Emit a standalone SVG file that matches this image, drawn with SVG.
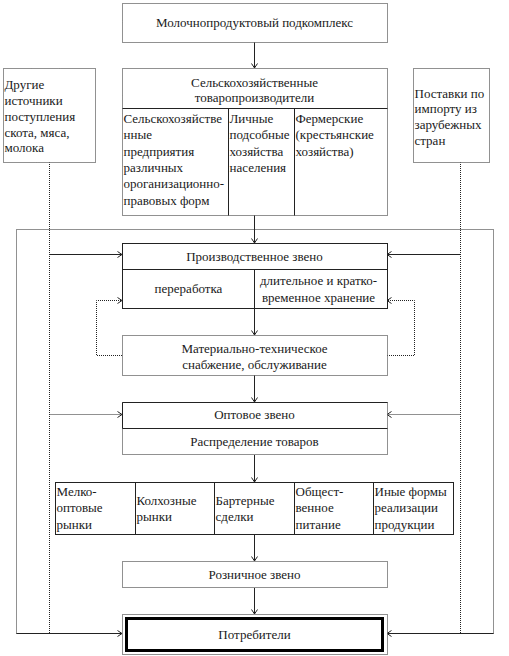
<svg xmlns="http://www.w3.org/2000/svg" width="509" height="656" viewBox="0 0 509 656" font-family="'Liberation Serif', 'DejaVu Serif', serif" font-size="13">
<defs>
<style>
text{font-family:'Liberation Serif','DejaVu Serif',serif;font-size:13px;fill:#1a1a1a}
.c{text-anchor:middle}
.dot{fill:#fff;stroke:#222;stroke-width:1;stroke-dasharray:1 1}
.sol{fill:#fff;stroke:#222;stroke-width:1}
.ln{fill:none;stroke:#222;stroke-width:1}
.dl{fill:none;stroke:#222;stroke-width:1;stroke-dasharray:1 1}
.ar{marker-end:url(#ah)}
</style>
<marker id="ah" markerUnits="userSpaceOnUse" markerWidth="8" markerHeight="8" viewBox="-6 -4 8 8" refX="0" refY="0" orient="auto">
<path d="M-4.5,-3 L0,0 L-4.5,3" fill="none" stroke="#222" stroke-width="1"/>
</marker>
</defs>
<rect width="509" height="656" fill="#fff"/>

<g id="connectors">
<path class="dl" d="M16.5,633.5 V229.5 H493.5 V633.5"/>
<path class="dl" d="M49.5,162 V633.5"/>
<path class="dl" d="M460.5,162 V633.5"/>
<path class="ln ar" d="M254.5,42 V68"/>
<path class="ln ar" d="M254.5,215 V243"/>
<path class="ln ar" d="M254.5,308 V335"/>
<path class="ln ar" d="M254.5,375 V402"/>
<path class="ln ar" d="M254.5,455 V482"/>
<path class="ln ar" d="M254.5,534 V561"/>
<path class="ln ar" d="M254.5,588 V614"/>
<path class="ln ar" d="M49.5,254.5 H122"/>
<path class="ln ar" d="M460.5,254.5 H387"/>
<path class="dl ar" d="M49.5,414.5 H122"/>
<path class="dl ar" d="M460.5,414.5 H387"/>
<path class="ln ar" d="M16.5,633.5 H122"/>
<path class="ln ar" d="M493.5,633.5 H387"/>
<path class="dl ar" d="M122,355.5 H96.5 V300.5 H122"/>
<path class="dl ar" d="M387,355.5 H414.5 V300.5 H387"/>
</g>

<g id="node-top">
<rect class="dot" x="122.5" y="3.5" width="265" height="39"/>
<text class="c" x="254.5" y="27">Молочнопродуктовый подкомплекс</text>
</g>

<g id="node-producers">
<rect class="dot" x="122.5" y="68.5" width="265" height="147"/>
<path class="ln" d="M122.5,108.5 H387.5 M228.5,108.5 V215.5 M294.5,108.5 V215.5"/>
<text class="c" x="254.5" y="86.5">Сельскохозяйственные</text>
<text class="c" x="254.5" y="101.5">товаропроизводители</text>
<text x="123.5" y="122.5">Сельскохозяйстве</text>
<text x="123.5" y="139">нные</text>
<text x="123.5" y="155.5">предприятия</text>
<text x="123.5" y="171.5">различных</text>
<text x="123.5" y="188">ороганизационно-</text>
<text x="123.5" y="204.5">правовых форм</text>
<text x="229.5" y="122.5">Личные</text>
<text x="229.5" y="139">подсобные</text>
<text x="229.5" y="155.5">хозяйства</text>
<text x="229.5" y="171.5">населения</text>
<text x="295.5" y="122.5">Фермерские</text>
<text x="295.5" y="139">(крестьянские</text>
<text x="295.5" y="155.5">хозяйства)</text>
</g>

<g id="node-other">
<rect class="dot" x="3.5" y="68.5" width="92" height="94"/>
<text x="4.5" y="88.5">Другие</text>
<text x="4.5" y="104.5">источники</text>
<text x="4.5" y="121">поступления</text>
<text x="4.5" y="136.5">скота, мяса,</text>
<text x="4.5" y="151.5">молока</text>
</g>

<g id="node-import">
<rect class="dot" x="413.5" y="68.5" width="76" height="94"/>
<text x="414.5" y="97.5">Поставки по</text>
<text x="414.5" y="112.5">импорту из</text>
<text x="414.5" y="128.5">зарубежных</text>
<text x="414.5" y="144.5">стран</text>
</g>

<g id="node-production">
<rect class="sol" x="122.5" y="243.5" width="265" height="65"/>
<path class="ln" d="M122.5,269.5 H387.5 M254.5,269.5 V308.5"/>
<text class="c" x="254.5" y="260.5">Производственное звено</text>
<text class="c" x="188.5" y="292.5">переработка</text>
<text class="c" x="318.5" y="285">длительное и кратко-</text>
<text class="c" x="318.5" y="301.5">временное хранение</text>
</g>

<g id="node-supply">
<rect class="dot" x="122.5" y="335.5" width="265" height="40"/>
<text class="c" x="254.5" y="352.5">Материально-техническое</text>
<text class="c" x="254.5" y="368.5">снабжение, обслуживание</text>
</g>

<g id="node-wholesale">
<rect class="dot" x="122.5" y="402.5" width="265" height="52"/>
<path class="ln" d="M122.5,402.5 H387.5 M122.5,402.5 V428.5 M122.5,428.5 H387.5"/>
<text class="c" x="254.5" y="419">Оптовое звено</text>
<text class="c" x="254.5" y="445.5">Распределение товаров</text>
</g>

<g id="node-channels">
<rect class="sol" x="55.5" y="482.5" width="398" height="52"/>
<path class="ln" d="M135.5,482.5 V534.5 M214.5,482.5 V534.5 M294.5,482.5 V534.5 M373.5,482.5 V534.5"/>
<text x="56.5" y="495.5">Мелко-</text>
<text x="56.5" y="512">оптовые</text>
<text x="56.5" y="528.5">рынки</text>
<text x="136.5" y="504.5">Колхозные</text>
<text x="136.5" y="520.5">рынки</text>
<text x="215.5" y="504.5">Бартерные</text>
<text x="215.5" y="520.5">сделки</text>
<text x="295.5" y="495.5">Общест-</text>
<text x="295.5" y="512">венное</text>
<text x="295.5" y="528.5">питание</text>
<text x="374.5" y="495.5">Иные формы</text>
<text x="374.5" y="512">реализации</text>
<text x="374.5" y="528.5">продукции</text>
</g>

<g id="node-retail">
<rect class="dot" x="122.5" y="561.5" width="265" height="26"/>
<text class="c" x="254.5" y="579">Розничное звено</text>
</g>

<g id="node-consumers">
<rect class="dot" x="122.5" y="614.5" width="265" height="40"/>
<rect x="126.5" y="618.5" width="256" height="32" fill="#fff" stroke="#000" stroke-width="3"/>
<text class="c" x="254.5" y="638.5">Потребители</text>
</g>
</svg>
